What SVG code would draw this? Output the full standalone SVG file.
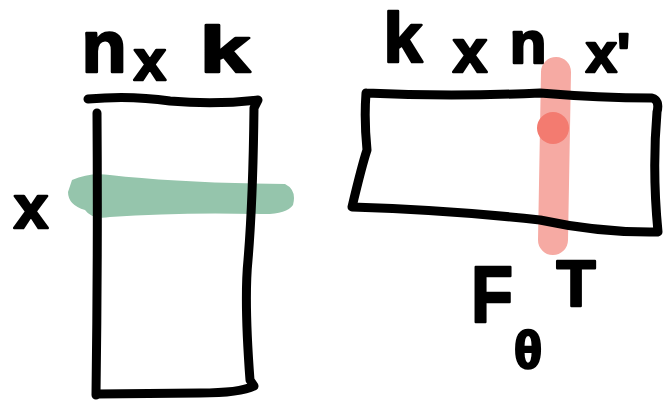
<svg xmlns="http://www.w3.org/2000/svg" width="667" height="404" viewBox="0 0 667 404">
<style>
.ink{fill:none;stroke:#000;stroke-width:9;stroke-linecap:round;stroke-linejoin:round}
.t{font-family:"Liberation Sans","DejaVu Sans",sans-serif;font-weight:bold;fill:#000;stroke:#000;stroke-width:2.5;stroke-linejoin:round;text-anchor:middle}
</style>
<rect width="667" height="404" fill="#fff"/>
<g id="left-matrix">
<path d="M72,180 Q90,172 110,175 Q180,183 285,184 Q297,190 293,205 Q286,215 260,214 Q180,212 110,217 Q92,220 85,210 Q68,205 68,192 Z" fill="#95c5ac"/>
<path class="ink" d="M88,99 Q130,95 170,101 Q215,105 258,100 L254,108 Q253,200 248,260 Q244,300 250,380 L254,386 Q240,393 200,393 L97,394"/>
<path class="ink" d="M97,113 Q98,250 96,395"/>
</g>
<g id="right-matrix">
<path d="M556,72 L553,240" fill="none" stroke="#f6aaa3" stroke-width="30" stroke-linecap="round"/>
<circle cx="553" cy="128" r="16" fill="#f37b70"/>
<path class="ink" d="M366,93 Q450,97 540,93 Q600,98 652,98 Q660,100 657,112 Q652,170 658,232 Q600,233 540,220 Q450,210 352,207 Q362,165 367,150 Q364,120 366,93"/>
</g>
<g id="labels">
<text class="t" x="104" y="72" font-size="74">n</text>
<text class="t" x="150" y="80" font-size="58">x</text>
<text class="t" x="225" y="72" font-size="64" textLength="50" lengthAdjust="spacingAndGlyphs">k</text>
<text class="t" x="31" y="228" font-size="62">x</text>
<text class="t" x="403" y="62" font-size="70">k</text>
<text class="t" x="470" y="72" font-size="62">x</text>
<text class="t" x="528" y="63" font-size="60">n</text>
<text class="t" x="608" y="72" font-size="56">x'</text>
<text class="t" x="492" y="322" font-size="80" textLength="42" lengthAdjust="spacingAndGlyphs">F</text>
<text class="t" x="528" y="368" font-size="52">θ</text>
<text class="t" x="576" y="306" font-size="64">T</text>
</g>
</svg>
